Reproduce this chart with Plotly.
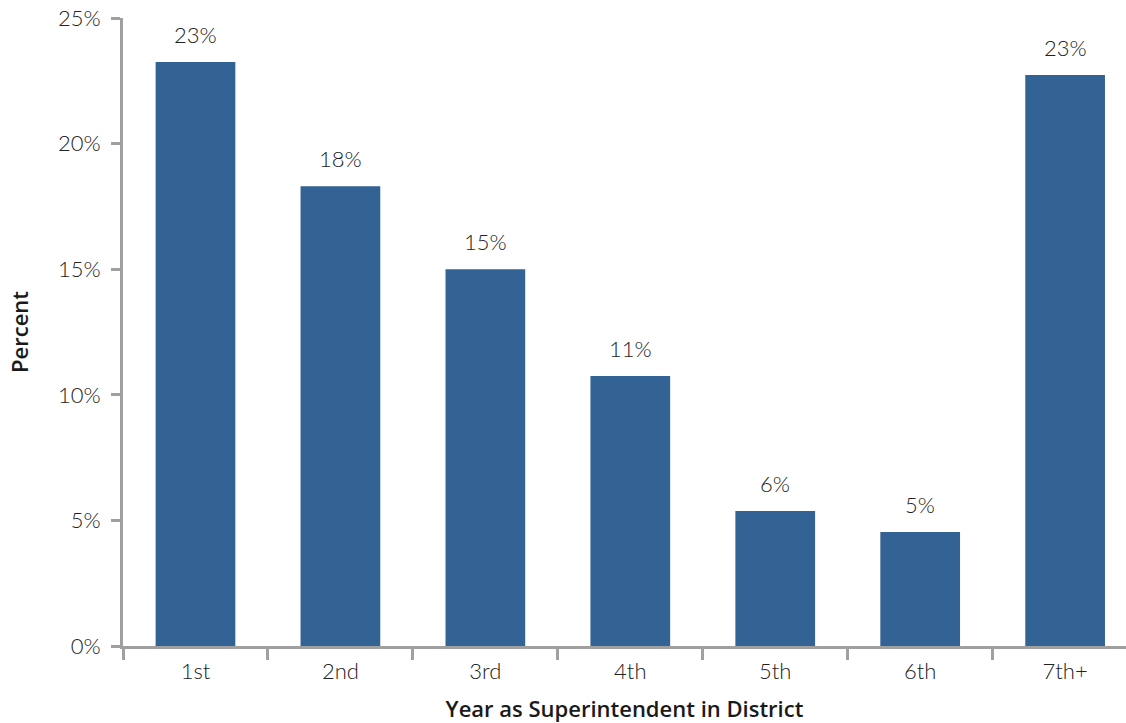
import plotly.graph_objects as go

categories = ["1st", "2nd", "3rd", "4th", "5th", "6th", "7th+"]
values = [23.25, 18.3, 15.0, 10.75, 5.37, 4.54, 22.73]
labels = ["23%", "18%", "15%", "11%", "6%", "5%", "23%"]
y_ticks = [0, 5, 10, 15, 20, 25]
y_ticktext = ["0%", "5%", "10%", "15%", "20%", "25%"]

BAR = "#336294"
AXIS = "#a0a0a0"
TXT = "#222222"
FONT = "Lato"
TFONT = "Open Sans"

fig = go.Figure(go.Bar(x=categories, y=values, marker_color=BAR, marker_line_width=0))

for c, v, t in zip(categories, values, labels):
    fig.add_annotation(x=c, y=v, text=t, showarrow=False, yanchor="bottom",
                       yshift=12, font=dict(family=FONT, size=22, color=TXT, weight=300))

fig.update_layout(
    width=1126, height=723,
    margin=dict(l=123, r=0, t=18, b=77),
    plot_bgcolor="white", paper_bgcolor="white",
    bargap=0.45,
    showlegend=False,
    font=dict(family=FONT, size=22, color=TXT),
)
fig.update_xaxes(
    range=[-0.5, 6.42],
    showline=True, linecolor=AXIS, linewidth=3,
    ticks="outside", tickson="boundaries", ticklen=11, tickwidth=3, tickcolor=AXIS,
    showgrid=False,
    ticklabelstandoff=4,
    tickfont=dict(family=FONT, size=22, color=TXT, weight=300),
    title=dict(text="Year as Superintendent in District",
               font=dict(family=TFONT, size=22, color="#1a1a1a", weight=600), standoff=20),
)
fig.update_yaxes(
    range=[0, 25],
    tickvals=y_ticks, ticktext=y_ticktext,
    showline=True, linecolor=AXIS, linewidth=3,
    ticks="outside", ticklen=9, tickwidth=3, tickcolor=AXIS,
    showgrid=False, zeroline=False,
    ticklabelstandoff=6,
    tickfont=dict(family=FONT, size=22, color=TXT, weight=300),
    title=dict(text="Percent",
               font=dict(family=TFONT, size=22, color="#1a1a1a", weight=600), standoff=24),
)

fig.write_html("out.html")
